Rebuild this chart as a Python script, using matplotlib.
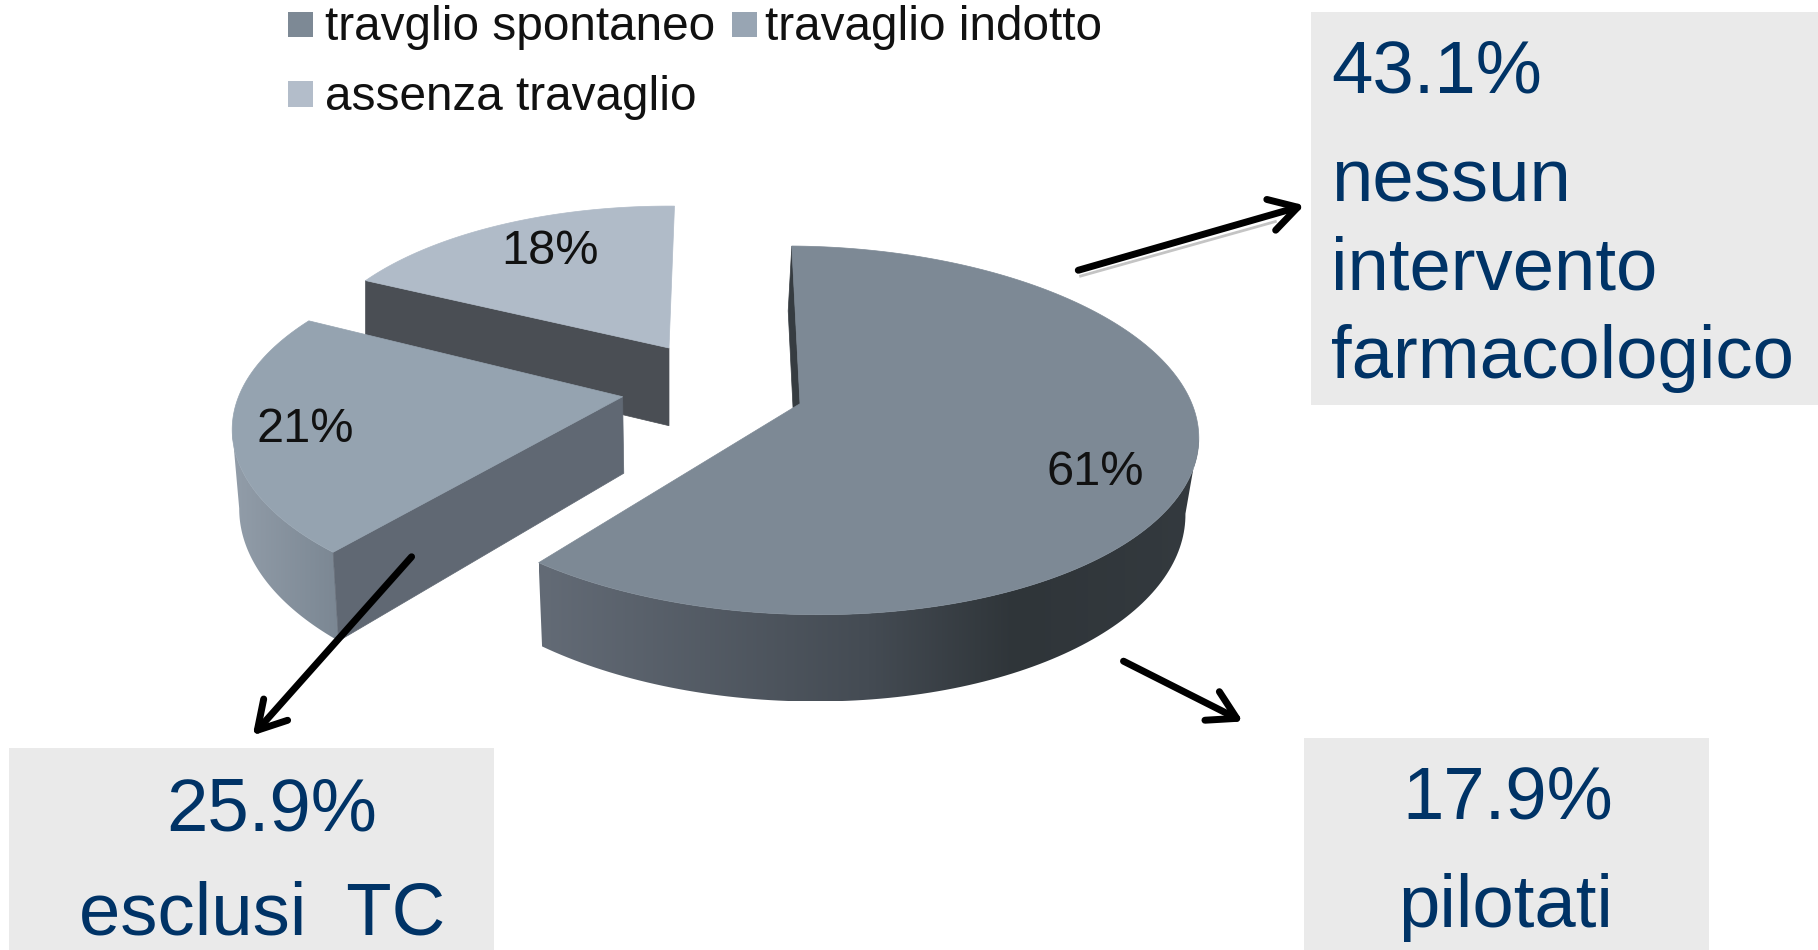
import numpy as np
import matplotlib
matplotlib.use('Agg')
import matplotlib.pyplot as plt
from matplotlib.colors import LinearSegmentedColormap
from matplotlib.patches import Polygon, Rectangle

plt.rcParams['font.family'] = ['Liberation Sans', 'DejaVu Sans']

categories = ['travglio spontaneo', 'travaglio indotto', 'assenza travaglio']
values = [61, 21, 18]
value_labels = ['61%', '21%', '18%']

# coordinates below are in the 1568x819 space of the shrunk reference
W, H = 1568, 819
RX, RY = 338.0, 155.6

# per slice: apex x, apex y, scale, depth, shear, x stretch, bottom x scale, bottom x shift, perspective
geom = [(690, 348, 1.00, 64, 14, 1.00, 0.975, -3, 0.1447),
        (537, 342, 0.98, 66, 0, 1.00, 0.985, 1, 0.18),
        (577, 300, 0.90, 67, 0, 1.02, 1.00, 0, 0.1447)]
# small corrections (deg) to the slice edges, perspective of the original squeezes them
trims = [(0, -2), (0, 1.5), (0, 0)]
# which side of the slice the outer wall runs to before it goes behind the top
wall_side = ['right', 'left', None]
top_cols = ['#7d8995', '#95a3b0', '#b0bbc8']
cut_cols = ['#363c41', '#606873', '#4a4e54']
legend_cols = ['#7d8995', '#98a5b3', '#b3bdca']
START_ANGLE = 1.0


# project angle (deg, clockwise from top) of the tilted disc on to the picture
def project(ang, g, bottom=False):
    cx, cy, c, depth, shear, xs, bx, bs, persp = g
    a = np.radians(ang)
    u = np.sin(a) * (bx if bottom else 1.0)
    v = -np.cos(a)
    s = 1.0 / (1.0 - persp * v)
    x = cx + c * (RX * xs * u + shear * v) * s
    y = cy + c * RY * v * s
    if bottom:
        y = y + depth * s
        x = x + bs
    return np.column_stack([x, y])


def apex(g, bottom=False):
    if bottom:
        return np.array([[g[0] + g[7], g[1] + g[3]]])
    return np.array([[g[0], g[1]]])


# side wall shaded left to right, clipped to the wall outline
def wall(ax, pts, stops, zorder):
    cmap = LinearSegmentedColormap.from_list('w', stops)
    x0, x1 = pts[:, 0].min(), pts[:, 0].max()
    y0, y1 = pts[:, 1].min(), pts[:, 1].max()
    grad = np.linspace(0, 1, 256).reshape(1, -1)
    im = ax.imshow(grad, cmap=cmap, extent=(x0, x1, y1, y0), aspect='auto',
                   zorder=zorder, interpolation='bilinear')
    clip = Polygon(pts, closed=True, transform=ax.transData)
    im.set_clip_path(clip)


def draw_slice(ax, i, a0, a1, wall_stops, z):
    g = geom[i]
    ang = np.linspace(a0, a1, 200)
    top = project(ang, g)
    if wall_side[i] == 'right':
        wang = ang[np.argmax(top[:, 0]):]
    elif wall_side[i] == 'left':
        wang = ang[:np.argmin(top[:, 0]) + 1]
    else:
        wang = None
    if wang is not None:
        wall(ax, np.vstack([project(wang, g), project(wang, g, bottom=True)[::-1]]), wall_stops, z)
    # only the cut face at the start edge can be seen
    p = project(np.array([a0]), g)
    q = project(np.array([a0]), g, bottom=True)
    face = np.vstack([apex(g), p, q, apex(g, True)])
    ax.add_patch(Polygon(face, closed=True, fc=cut_cols[i], ec=cut_cols[i], lw=0.5, zorder=z + 0.1))
    ax.add_patch(Polygon(np.vstack([apex(g), top]), closed=True, fc=top_cols[i],
                         ec=top_cols[i], lw=0.5, zorder=z + 0.2))


fig = plt.figure(figsize=(18.18, 9.5), dpi=100)
ax = fig.add_axes([0, 0, 1, 1])
ax.set_xlim(0, W)
ax.set_ylim(H, 0)
ax.axis('off')

edges = START_ANGLE + np.concatenate([[0], np.cumsum(values)]) * 3.6

# back to front, so the front slices hide the rear ones
draw_slice(ax, 2, edges[2] + trims[2][0], edges[3] + trims[2][1], None, 2)
draw_slice(ax, 1, edges[1] + trims[1][0], edges[2] + trims[1][1], ['#929da9', '#7b8793'], 3)
draw_slice(ax, 0, edges[0] + trims[0][0], edges[1] + trims[0][1],
           [(0, '#636b76'), (0.5, '#444b53'), (0.72, '#2f3539'), (1, '#343a3f')], 4)

label_pos = [(945, 407), (263, 370), (474, 217)]
for lab, pos in zip(value_labels, label_pos):
    ax.text(pos[0], pos[1], lab, fontsize=35, color='#111111', ha='center', va='center', zorder=6)

# legend
leg_sq = [(248, 10), (631, 10), (248, 70)]
leg_txt = [(280, 24), (660, 24), (280, 84)]
for name, col, sq, tx in zip(categories, legend_cols, leg_sq, leg_txt):
    ax.add_patch(Rectangle(sq, 22, 22, fc=col, ec='none', zorder=6))
    ax.text(tx[0], tx[1], name, fontsize=34.4, color='#111111', ha='left', va='center', zorder=6)

# grey boxes
navy = '#003366'
ax.add_patch(Rectangle((1131, 10), 437, 339, fc='#eaeaea', ec='none', zorder=1))
ax.add_patch(Rectangle((8, 645), 418, 174, fc='#eaeaea', ec='none', zorder=1))
ax.add_patch(Rectangle((1125, 636), 349, 183, fc='#eaeaea', ec='none', zorder=1))

box_text = [('43.1%', 1148, 63, 'left'), ('nessun', 1148, 157, 'left'),
            ('intervento', 1148, 233, 'left'), ('farmacologico', 1148, 309, 'left'),
            ('25.9%', 234, 699, 'center'), ('esclusi  TC', 226, 789, 'center'),
            ('17.9%', 1300, 689, 'center'), ('pilotati', 1299, 782, 'center')]
for s, x, y, ha in box_text:
    ax.text(x, y, s, fontsize=53.6, color=navy, ha=ha, va='center', zorder=6)

# faint shadow under the first arrow
ax.plot([932, 1100], [238, 191], color='#c4c4c4', lw=2, zorder=6.5)

# arrows
arrows = [((930, 233), (1125, 177)), ((355, 480), (218, 634)), ((969, 570), (1072, 622))]
for start, end in arrows:
    ax.annotate('', xy=end, xytext=start, zorder=7,
                arrowprops=dict(arrowstyle='->,head_length=0.62,head_width=0.36', lw=5,
                                color='black', mutation_scale=32,
                                shrinkA=0, shrinkB=0))

fig.savefig('out.png', dpi=100)
